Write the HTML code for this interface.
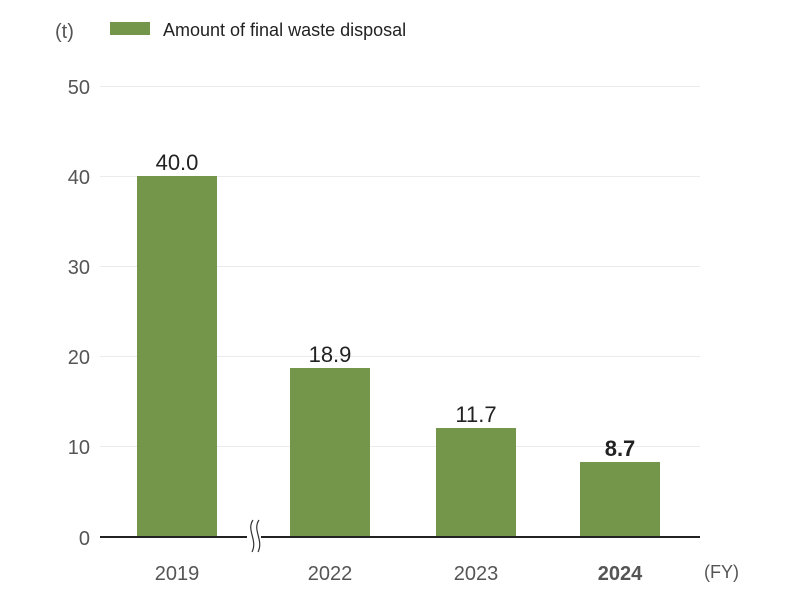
<!DOCTYPE html>
<html><head><meta charset="utf-8"><style>body{margin:0;background:#fff}</style></head><body>
<svg width="800" height="601" xmlns="http://www.w3.org/2000/svg" font-family="Liberation Sans, sans-serif">
<rect width="800" height="601" fill="#fff"/>
<g stroke="#ebebeb" stroke-width="1">
<line x1="100" y1="86.5" x2="700" y2="86.5"/><line x1="100" y1="176.5" x2="700" y2="176.5"/>
<line x1="100" y1="266.5" x2="700" y2="266.5"/><line x1="100" y1="356.5" x2="700" y2="356.5"/>
<line x1="100" y1="446.5" x2="700" y2="446.5"/></g>
<g font-size="20" fill="#555" text-anchor="end">
<text x="90" y="94">50</text><text x="90" y="184">40</text><text x="90" y="274">30</text>
<text x="90" y="364">20</text><text x="90" y="454">10</text><text x="90" y="545">0</text></g>
<g fill="#74964a">
<rect x="137" y="176" width="80" height="361"/><rect x="290" y="368" width="80" height="169"/>
<rect x="436" y="428" width="80" height="109"/><rect x="580" y="462" width="80" height="75"/></g>
<line x1="100" y1="537" x2="700" y2="537" stroke="#222" stroke-width="2"/>
<rect x="247" y="528" width="14" height="20" fill="#fff"/>
<path d="M253 520 C246 530,258 540,252 552 M259 520 C252 530,264 540,258 552" stroke="#333" stroke-width="1.2" fill="none"/>
<g font-size="22" fill="#222" text-anchor="middle">
<text x="177" y="170">40.0</text><text x="330" y="362">18.9</text><text x="476" y="422">11.7</text>
<text x="620" y="456" font-weight="bold">8.7</text></g>
<g font-size="20" fill="#555" text-anchor="middle">
<text x="177" y="580">2019</text><text x="330" y="580">2022</text><text x="476" y="580">2023</text>
<text x="620" y="580" font-weight="bold">2024</text></g>
<text x="704" y="578" font-size="18" fill="#555">(FY)</text>
<text x="55" y="38" font-size="20" fill="#555">(t)</text>
<rect x="110" y="22" width="40" height="13" fill="#74964a"/>
<text x="163" y="36" font-size="18" fill="#222">Amount of final waste disposal</text>
</svg></body></html>
